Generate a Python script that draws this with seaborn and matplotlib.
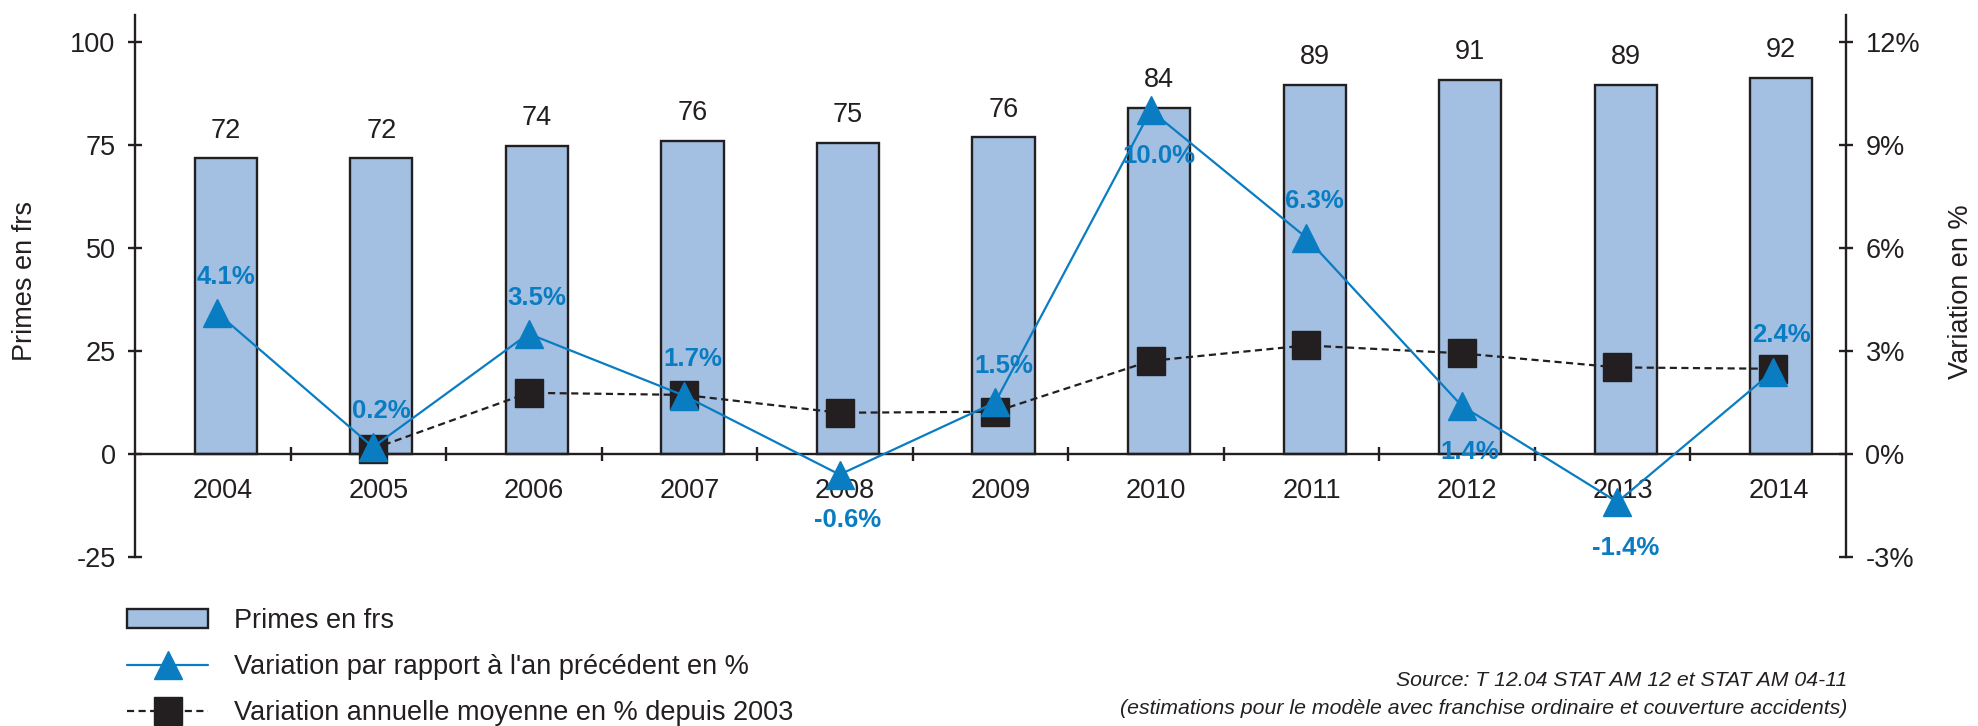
#!/usr/bin/env python3
# Primes en frs (bars) + variations en % (lines, right axis)

import numpy as np
import matplotlib
matplotlib.use("Agg")
import matplotlib.pyplot as plt
from matplotlib.patches import Patch
from matplotlib.lines import Line2D
import seaborn as sns

# ============================================================================
# DATA
# ============================================================================
years = np.array([2004, 2005, 2006, 2007, 2008, 2009, 2010, 2011, 2012, 2013, 2014])
primes = [71.7, 71.7, 74.8, 76.0, 75.4, 76.8, 84.0, 89.6, 90.8, 89.6, 91.3]
primes_labels = ["72", "72", "74", "76", "75", "76", "84", "89", "91", "89", "92"]
var_prec = [4.1, 0.2, 3.5, 1.7, -0.6, 1.5, 10.0, 6.3, 1.4, -1.4, 2.4]
var_moy = [np.nan, 0.15, 1.78, 1.72, 1.20, 1.23, 2.71, 3.16, 2.93, 2.52, 2.48]
left_ticks = [-25, 0, 25, 50, 75, 100]
right_ticks = [-3, 0, 3, 6, 9, 12]

legend_labels = ["Primes en frs",
                 "Variation par rapport à l'an précédent en %",
                 "Variation annuelle moyenne en % depuis 2003"]
source_lines = ["Source: T 12.04 STAT AM 12 et STAT AM 04-11",
                "(estimations pour le modèle avec franchise ordinaire et couverture accidents)"]

# label placement for the % labels (style only)
label_below = [False, False, False, False, True, False, True, False, True, True, False]

# ============================================================================
# THEME SETTINGS
# ============================================================================
sns.set_theme(style="white")
plt.rcParams['font.family'] = ['Liberation Sans', 'DejaVu Sans']
plt.rcParams['font.size'] = 19.5

dark = '#231F20'
bar_color = '#A3BFE2'
blue = '#0A7DC2'
fs = 19.5
plt.rcParams['text.color'] = dark

W, H = 1978, 726
fig = plt.figure(figsize=(W / 100, H / 100), dpi=100)
ax = fig.add_axes([135 / W, (H - 557) / H, 1711 / W, 542 / H])
ax2 = ax.twinx()

y_top = 106.5
ax.set_ylim(-25, y_top)
ax2.set_ylim(-3, y_top * 12 / 100)

bar_shift = 0.084
mark_shift = 0.03

# ============================================================================
# CREATE PLOT
# ============================================================================
sns.barplot(x=years + bar_shift, y=primes, native_scale=True, width=0.4,
            color=bar_color, saturation=1, edgecolor=dark, linewidth=1.7,
            ax=ax, zorder=2)
ax.set_xlim(years[0] - 0.5, years[-1] + 0.5)

for x, h, lbl in zip(years + bar_shift, primes, primes_labels):
    ax.annotate(lbl, (x, h), xytext=(0, 20), textcoords='offset points',
                ha='center', va='center', fontsize=fs, color=dark)

sns.lineplot(x=years + mark_shift, y=var_moy, ax=ax2, color=dark,
             linestyle=(0, (3.2, 2.0)), linewidth=1.6, marker='s',
             markersize=20, markeredgecolor=dark, markeredgewidth=1,
             zorder=3)
sns.lineplot(x=years + mark_shift, y=var_prec, ax=ax2, color=blue,
             linewidth=1.6, marker='^', markersize=20.5,
             markeredgecolor=blue, markeredgewidth=1, zorder=4)

for x, v, below in zip(years + bar_shift, var_prec, label_below):
    ax2.annotate(f"{v:.1f}%", (x, v), xytext=(0, -33 if below else 26),
                 textcoords='offset points', ha='center', va='center',
                 fontsize=18.5, fontweight='bold', color=blue, zorder=5)

# ============================================================================
# AXES STYLING
# ============================================================================
for a in (ax, ax2):
    a.spines['top'].set_visible(False)
    a.set_facecolor('none')
    for s in a.spines.values():
        s.set_color(dark)
        s.set_linewidth(1.7)
ax.spines['right'].set_visible(False)
ax2.spines['left'].set_visible(False)
ax2.spines['bottom'].set_visible(False)
ax.spines['bottom'].set_position(('data', 0))

ax.set_yticks(left_ticks)
ax.set_yticklabels([str(t) for t in left_ticks])
ax2.set_yticks(right_ticks)
ax2.set_yticklabels([f"{t}%" for t in right_ticks])
ax.tick_params(axis='y', direction='inout', length=10, width=1.7,
               color=dark, pad=9, labelsize=fs, labelcolor=dark, left=True)
ax2.tick_params(axis='y', direction='inout', length=10, width=1.7,
                color=dark, pad=9, labelsize=fs, labelcolor=dark, right=True)

ax.set_xticks(years + 0.065)
ax.set_xticklabels([str(y) for y in years])
ax.set_xticks(years[:-1] + 0.5, minor=True)
ax.tick_params(axis='x', which='major', length=0, pad=17, labelsize=fs,
               labelcolor=dark, bottom=True)
ax.tick_params(axis='x', which='minor', direction='inout', length=10,
               width=1.7, color=dark, bottom=True)
ax.grid(False)
ax2.grid(False)

ax.set_ylabel("Primes en frs", fontsize=fs, color=dark)
ax.yaxis.set_label_coords(-0.0567, 0.51)
ax2.set_ylabel("Variation en %", fontsize=fs, color=dark)
ax2.yaxis.set_label_coords(1.0596, 0.49)

# ============================================================================
# LEGEND + SOURCE
# ============================================================================
handles = [
    Patch(facecolor=bar_color, edgecolor=dark, linewidth=1.7),
    Line2D([], [], color=blue, linewidth=1.6, marker='^', markersize=20.5,
           markeredgecolor=blue),
    Line2D([], [], color=dark, linewidth=1.6, linestyle=(0, (3.2, 2.0)),
           marker='s', markersize=20, markeredgecolor=dark),
]
fig.legend(handles, legend_labels, loc='upper left',
           bbox_to_anchor=(127 / W, 1 - 608 / H), frameon=False,
           borderpad=0, borderaxespad=0, handlelength=3.0,
           handletextpad=0.95, labelspacing=0.74, fontsize=fs)

fig.text(1847 / W, 1 - 681 / H, source_lines[0], ha='right', va='center',
         style='italic', fontsize=15.3, color=dark)
fig.text(1847 / W, 1 - 708 / H, source_lines[1], ha='right', va='center',
         style='italic', fontsize=15.3, color=dark)

fig.savefig("out.png", dpi=100)
print("Plot saved to: out.png")
plt.close(fig)
